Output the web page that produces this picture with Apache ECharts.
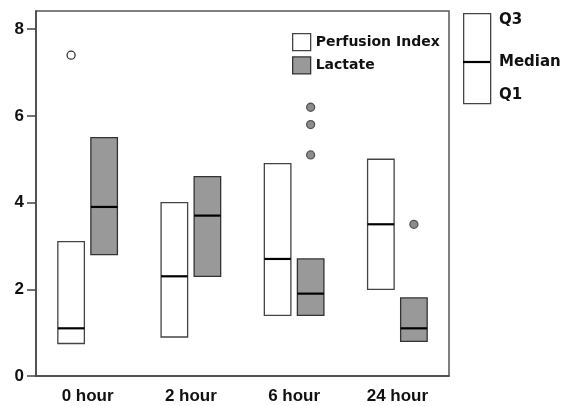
<!DOCTYPE html>
<html>
<head>
<meta charset="utf-8">
<script src="https://cdn.jsdelivr.net/npm/echarts@6/dist/echarts.min.js"></script>
<style>
html,body{margin:0;padding:0;background:#fff;}
#chart{width:567px;height:406px;}
</style>
</head>
<body>
<div id="chart"></div>
<script>
// ---- data ----
const categories = ['0 hour', '2 hour', '6 hour', '24 hour'];
// [Q1, median, Q3] per category
const perfusionQ1 = [0.75, 0.9, 1.4, 2.0];
const perfusionMedian = [1.1, 2.3, 2.7, 3.5];
const perfusionQ3 = [3.1, 4.0, 4.9, 5.0];
const lactateQ1 = [2.8, 2.3, 1.4, 0.8];
const lactateMedian = [3.9, 3.7, 1.9, 1.1];
const lactateQ3 = [5.5, 4.6, 2.7, 1.8];
// outliers: [category index, value]
const perfusionOutliers = [[0, 7.4]];
const lactateOutliers = [[2, 6.2], [2, 5.8], [2, 5.1], [3, 3.5]];
const yTicks = [0, 2, 4, 6, 8];

const chart = echarts.init(document.getElementById('chart'), null, {renderer: 'canvas'});

function boxData(q1, med, q3) {
  return categories.map((c, i) => [i, q1[i], med[i], q3[i]]);
}

const OFFSET = 0.16;   // fraction of band width
const WIDTH = 0.257;   // fraction of band width

function boxRenderer(offsetFrac, fill, stroke) {
  return function (params, api) {
    const cat = api.value(0);
    const q1 = api.value(1), med = api.value(2), q3 = api.value(3);
    const band = api.size([1, 0])[0];
    const top = api.coord([cat, q3]);
    const bot = api.coord([cat, q1]);
    const mid = api.coord([cat, med]);
    const cx = top[0] + offsetFrac * band;
    const w = WIDTH * band;
    return {
      type: 'group',
      children: [
        {type: 'rect', shape: {x: cx - w / 2, y: top[1], width: w, height: bot[1] - top[1]},
         style: {fill: fill, stroke: stroke, lineWidth: 1.3}},
        {type: 'line', shape: {x1: cx - w / 2, y1: mid[1], x2: cx + w / 2, y2: mid[1]},
         style: {stroke: '#000', lineWidth: 2.2}}
      ]
    };
  };
}

function outlierRenderer(offsetFrac, fill, stroke) {
  return function (params, api) {
    const cat = api.value(0);
    const band = api.size([1, 0])[0];
    const p = api.coord([cat, api.value(1)]);
    return {
      type: 'circle',
      shape: {cx: p[0] + offsetFrac * band, cy: p[1], r: 4},
      style: {fill: fill, stroke: stroke, lineWidth: 1.3}
    };
  };
}

const option = {
  animation: false,
  backgroundColor: '#fff',
  grid: {left: 36, right: 118, top: 11, bottom: 30, show: true, borderColor: '#555', borderWidth: 1.5, backgroundColor: 'transparent'},
  xAxis: {
    type: 'category',
    data: categories,
    boundaryGap: true,
    axisLine: {lineStyle: {color: '#444', width: 1.5}},
    axisTick: {alignWithLabel: true, length: 9, lineStyle: {color: '#444', width: 1.5}},
    axisLabel: {margin: 12, color: '#111', fontFamily: 'Liberation Sans', fontWeight: 'bold', fontSize: 17},
    splitLine: {show: false}
  },
  yAxis: {
    type: 'value',
    min: 0,
    max: 8.42,
    axisLine: {show: true, lineStyle: {color: '#444', width: 1.5}},
    axisTick: {show: true, length: 9, customValues: yTicks, lineStyle: {color: '#444', width: 1.5}},
    axisLabel: {margin: 12, customValues: yTicks, color: '#111', fontFamily: 'Liberation Sans', fontWeight: 'bold', fontSize: 17},
    splitLine: {show: false}
  },
  legend: {
    orient: 'vertical',
    left: 292,
    top: 33,
    padding: 0,
    itemWidth: 18,
    itemHeight: 17,
    itemGap: 5,
    icon: 'rect',
    textStyle: {fontFamily: 'DejaVu Sans', fontWeight: 'bold', fontSize: 14, color: '#111'},
    data: [
      {name: 'Perfusion Index', itemStyle: {color: '#fff', borderColor: '#444', borderWidth: 1.3}},
      {name: 'Lactate', itemStyle: {color: '#999', borderColor: '#333', borderWidth: 1.3}}
    ]
  },
  graphic: [
    {type: 'rect', left: 463, top: 13, shape: {width: 27, height: 90}, style: {fill: '#fff', stroke: '#444', lineWidth: 1.3}},
    {type: 'line', shape: {x1: 463, y1: 62, x2: 490, y2: 62}, style: {stroke: '#000', lineWidth: 2.2}},
    {type: 'text', x: 499, y: 20, style: {text: 'Q3', fontFamily: 'DejaVu Sans', fontWeight: 'bold', fontSize: 15, fill: '#111', verticalAlign: 'middle'}},
    {type: 'text', x: 499, y: 62, style: {text: 'Median', fontFamily: 'DejaVu Sans', fontWeight: 'bold', fontSize: 15, fill: '#111', verticalAlign: 'middle'}},
    {type: 'text', x: 499, y: 95, style: {text: 'Q1', fontFamily: 'DejaVu Sans', fontWeight: 'bold', fontSize: 15, fill: '#111', verticalAlign: 'middle'}}
  ],
  series: [
    {name: 'Perfusion Index', type: 'custom', renderItem: boxRenderer(-OFFSET, '#fff', '#444'),
     encode: {x: 0, y: [1, 2, 3]}, data: boxData(perfusionQ1, perfusionMedian, perfusionQ3),
     itemStyle: {color: '#fff', borderColor: '#444'}},
    {name: 'Lactate', type: 'custom', renderItem: boxRenderer(OFFSET, '#999', '#333'),
     encode: {x: 0, y: [1, 2, 3]}, data: boxData(lactateQ1, lactateMedian, lactateQ3),
     itemStyle: {color: '#999', borderColor: '#333'}},
    {name: 'Perfusion Index', type: 'custom', renderItem: outlierRenderer(-OFFSET, '#fff', '#333'),
     encode: {x: 0, y: 1}, data: perfusionOutliers},
    {name: 'Lactate', type: 'custom', renderItem: outlierRenderer(OFFSET, '#8c8c8c', '#555'),
     encode: {x: 0, y: 1}, data: lactateOutliers}
  ]
};
chart.setOption(option);
</script>
</body>
</html>
